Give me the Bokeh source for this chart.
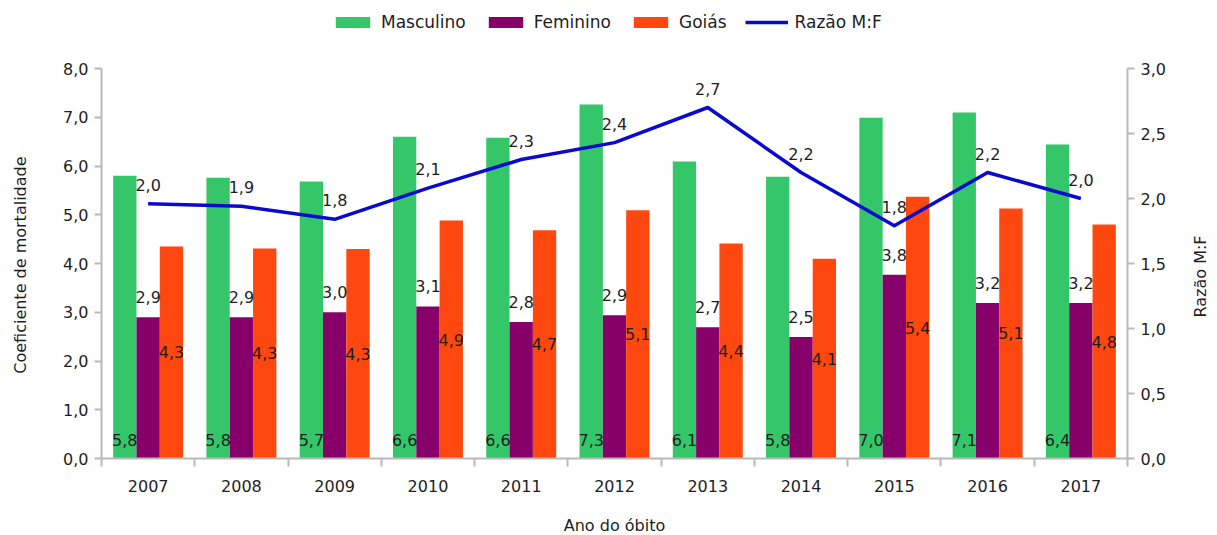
import math
from bokeh.plotting import figure
from bokeh.models import (Range1d, LinearAxis, FixedTicker, CustomJSTickFormatter,
                          Legend, LegendItem, ColumnDataSource)
from bokeh.core.properties import value
from bokeh.embed import file_html
from bokeh.resources import INLINE

# ---------------- data ----------------
years = ["2007", "2008", "2009", "2010", "2011", "2012", "2013", "2014", "2015", "2016", "2017"]
masculino = [5.80, 5.76, 5.68, 6.60, 6.58, 7.26, 6.09, 5.78, 6.99, 7.10, 6.44]
feminino = [2.90, 2.90, 3.00, 3.12, 2.80, 2.94, 2.69, 2.49, 3.77, 3.19, 3.19]
goias = [4.35, 4.31, 4.30, 4.88, 4.68, 5.09, 4.41, 4.10, 5.37, 5.13, 4.80]
razao = [1.96, 1.94, 1.84, 2.08, 2.30, 2.43, 2.70, 2.20, 1.79, 2.20, 2.00]
left_ticks = [0, 1, 2, 3, 4, 5, 6, 7, 8]
right_ticks = [0, 0.5, 1.0, 1.5, 2.0, 2.5, 3.0]

FONT = "DejaVu Sans"
GREEN = "#35C66A"
PURPLE = "#870069"
ORANGE = "#FF4710"
BLUE = "#0A0ACF"
AXIS_GRAY = "#b9b9b9"
TXT = "#1e1e1e"

# layout (pixels)
FRAME_H = 458          # frame spans from the top of the page to the x axis
AXIS_H = 390           # height of the scaled 0..8 part
STRETCH = FRAME_H / AXIS_H
NBSP = "\u00a0"        # padding that moves the centred left title down
RIGHT_TITLE_START_PX = 141   # where the upward-reading right title begins, px above the x axis


def fmt(v):
    return f"{v:.1f}".replace(".", ",")


idx = list(range(1, len(years) + 1))
W = 0.25

src = ColumnDataSource(dict(
    xm=[i - W for i in idx], xf=idx, xg=[i + W for i in idx],
    m=masculino, f=feminino, g=goias, r=razao,
    gh=[v / 2 for v in goias],
    zero=[0] * len(idx),
    lm=[fmt(v) for v in masculino], lf=[fmt(v) for v in feminino],
    lg=[fmt(v) for v in goias], lr=[fmt(v) for v in razao],
))

p = figure(frame_width=1026, frame_height=FRAME_H, output_backend="svg", toolbar_location=None,
           x_range=Range1d(0.5, len(years) + 0.5),
           y_range=Range1d(0, left_ticks[-1] * STRETCH),
           min_border_left=101, min_border_right=90, min_border_top=0, min_border_bottom=0,
           background_fill_color="white", border_fill_color="white")
p.outline_line_color = None
p.grid.visible = False
p.extra_y_ranges = {"ratio": Range1d(0, right_ticks[-1] * STRETCH),
                    "px": Range1d(0, FRAME_H)}

r_m = p.vbar(x="xm", top="m", width=W, source=src, fill_color=GREEN, line_color=None)
r_f = p.vbar(x="xf", top="f", width=W, source=src, fill_color=PURPLE, line_color=None)
r_g = p.vbar(x="xg", top="g", width=W, source=src, fill_color=ORANGE, line_color=None)
r_r = p.line(x="xf", y="r", source=src, line_color=BLUE, line_width=3.5, y_range_name="ratio",
             line_join="round")

common = dict(source=src, text_align="center", text_baseline="middle",
              text_font=value(FONT), text_font_size="16px", text_color=TXT)
p.text(x="xm", y="zero", text="lm", y_offset=-19, **common)
p.text(x="xf", y="f", text="lf", y_offset=-20, **common)
p.text(x="xg", y="gh", text="lg", **common)
p.text(x="xf", y="r", text="lr", y_offset=-19, y_range_name="ratio", **common)

comma_fmt = CustomJSTickFormatter(code="return tick.toFixed(1).replace('.', ',');")

# x axis
xa = p.xaxis[0]
xa.ticker = FixedTicker(ticks=idx, minor_ticks=[i - 0.5 for i in idx] + [len(idx) + 0.5])
xa.major_label_overrides = {i: y for i, y in zip(idx, years)}
xa.major_tick_line_color = None
xa.major_tick_out = 8
xa.major_tick_in = 0
xa.minor_tick_out = 8
xa.minor_tick_in = 0
xa.minor_tick_line_color = AXIS_GRAY
xa.minor_tick_line_width = 2
xa.major_label_standoff = 13
xa.axis_label = "Ano do óbito"
xa.axis_label_standoff = 21

# left axis (title reads upwards; trailing padding shifts it down)
ya = p.yaxis[0]
ya.ticker = FixedTicker(ticks=left_ticks, minor_ticks=[])
ya.bounds = (left_ticks[0], left_ticks[-1])
ya.formatter = comma_fmt
ya.major_tick_out = 7
ya.major_tick_in = 0
ya.major_label_standoff = 6
ya.axis_label = "Coeficiente de mortalidade" + NBSP * 14
ya.axis_label_standoff = 30

# right axis
ra = LinearAxis(y_range_name="ratio", ticker=FixedTicker(ticks=right_ticks, minor_ticks=[]),
                formatter=comma_fmt)
ra.bounds = (right_ticks[0], right_ticks[-1])
ra.major_tick_out = 7
ra.major_tick_in = 0
ra.major_label_standoff = 6
p.add_layout(ra, "right")

for ax in [xa, ya, ra]:
    ax.axis_line_color = AXIS_GRAY
    ax.axis_line_width = 2
    ax.major_tick_line_width = 2
    if ax is not xa:
        ax.major_tick_line_color = AXIS_GRAY
    ax.major_label_text_font = FONT
    ax.major_label_text_font_size = "16px"
    ax.major_label_text_color = TXT
    ax.axis_label_text_font = FONT
    ax.axis_label_text_font_size = "16px"
    ax.axis_label_text_font_style = "normal"
    ax.axis_label_text_color = TXT

# right title: a bare outer axis whose single label reads upwards from its tick
ta = LinearAxis(y_range_name="px",
                ticker=FixedTicker(ticks=[RIGHT_TITLE_START_PX], minor_ticks=[]),
                major_label_overrides={RIGHT_TITLE_START_PX: "Razão M:F"})
ta.axis_line_color = None
ta.major_tick_line_color = None
ta.minor_tick_line_color = None
ta.major_tick_out = 0
ta.major_tick_in = 0
ta.major_label_standoff = 32
ta.major_label_orientation = math.pi / 2
ta.major_label_text_font = FONT
ta.major_label_text_font_size = "16px"
ta.major_label_text_color = TXT
p.add_layout(ta, "right")

legend = Legend(items=[LegendItem(label="Masculino", renderers=[r_m]),
                       LegendItem(label="Feminino", renderers=[r_f]),
                       LegendItem(label="Goiás", renderers=[r_g]),
                       LegendItem(label="Razão M:F", renderers=[r_r])],
                orientation="horizontal", location=(230, FRAME_H - 32),
                padding=0, margin=0, spacing=18, label_standoff=7,
                glyph_width=43, glyph_height=14, label_height=20,
                label_text_font=FONT, label_text_font_size="17px", label_text_color=TXT,
                border_line_color=None, background_fill_alpha=0)
p.add_layout(legend)

open("out.html", "w").write(file_html(p, INLINE))
